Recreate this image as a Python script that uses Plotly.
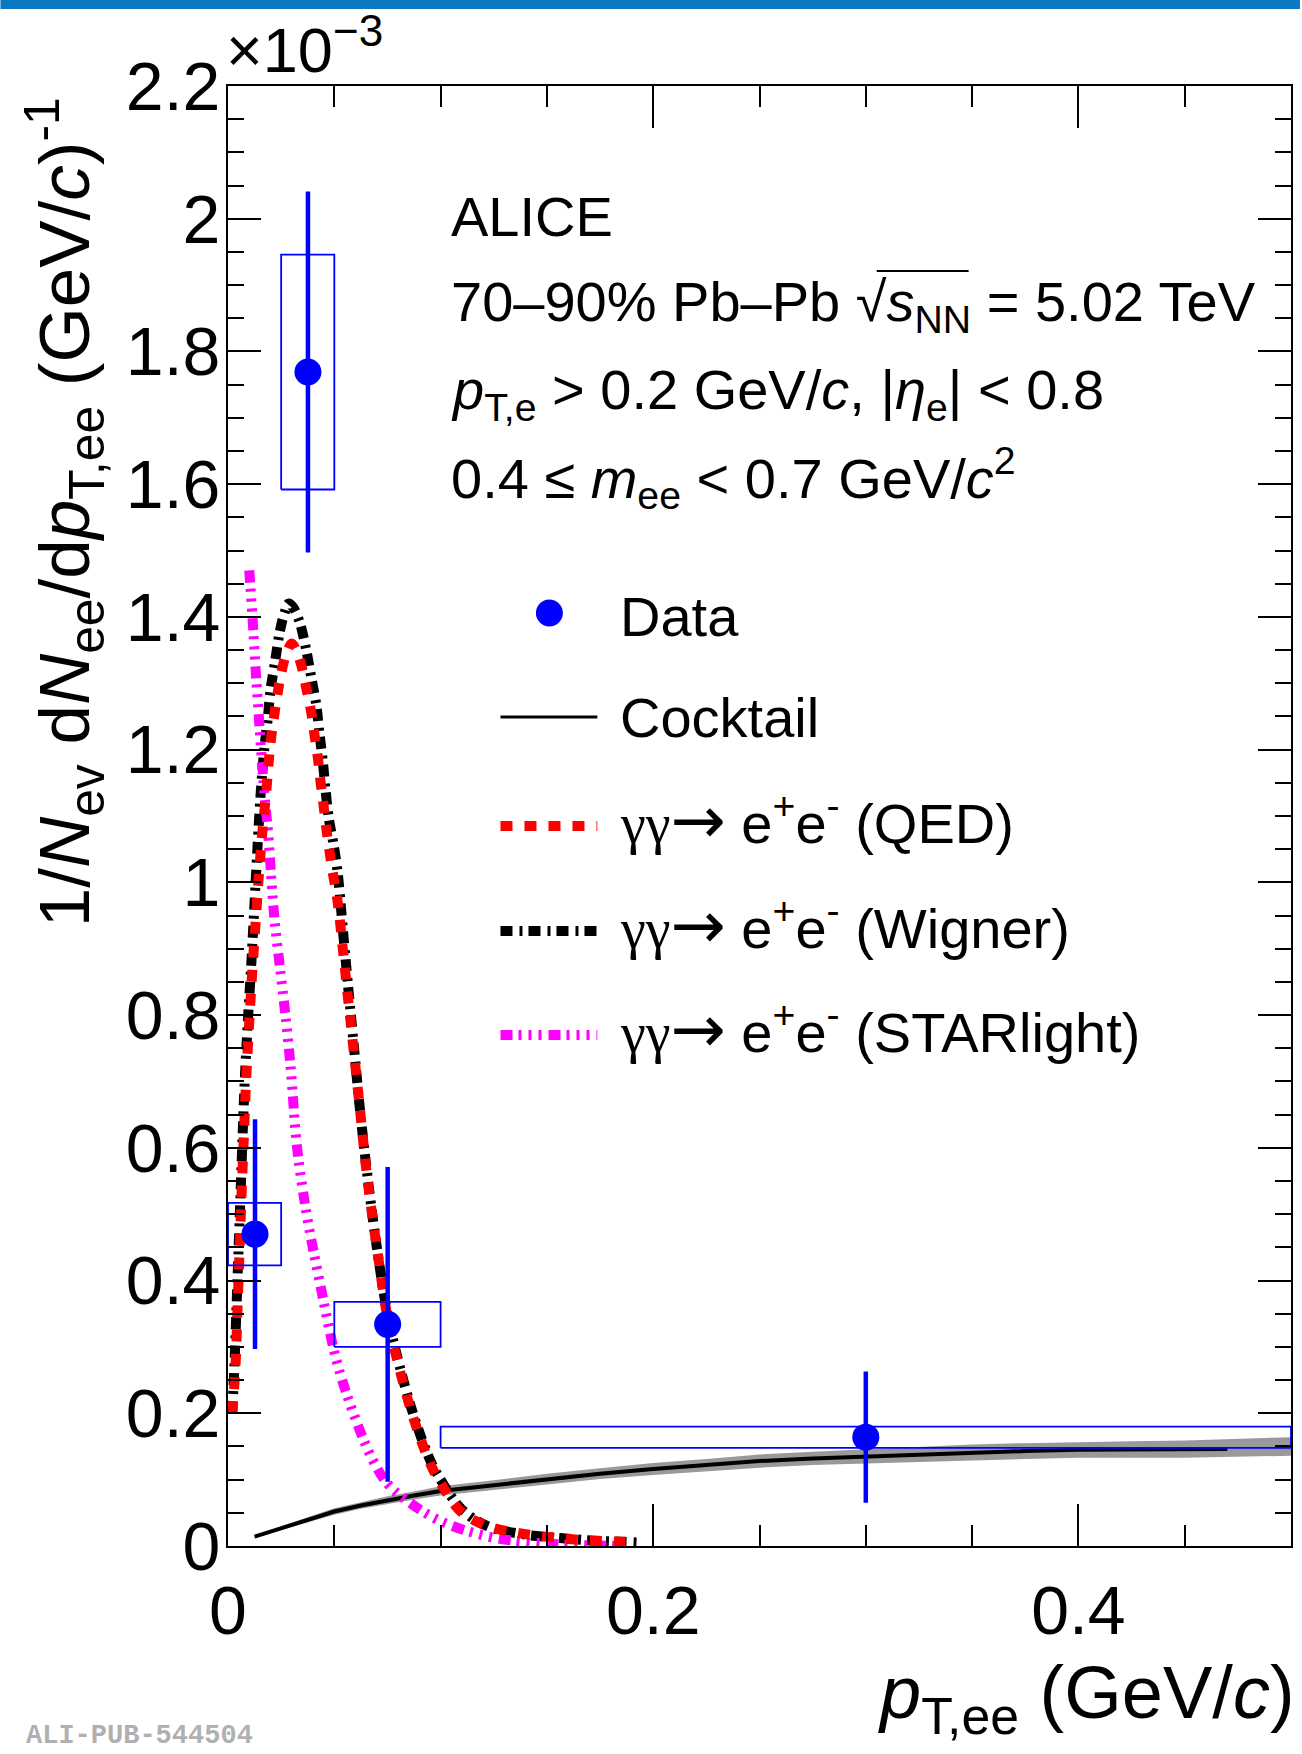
import plotly.graph_objects as go

# ---------------- data (y in units of 1e-3) ----------------
data_x = [0.0127, 0.0376, 0.0751, 0.300]
data_y = [0.470, 1.769, 0.334, 0.164]
data_stat = [0.173, 0.272, 0.237, 0.099]
box_xlo = [0.0, 0.025, 0.05, 0.10]
box_xhi = [0.025, 0.05, 0.10, 0.50]
data_sys = [0.047, 0.177, 0.034, 0.016]

cock_x = [0.0125, 0.025, 0.0375, 0.05, 0.0625, 0.075, 0.0875, 0.10, 0.125, 0.15, 0.175, 0.20,
          0.225, 0.25, 0.275, 0.30, 0.325, 0.35, 0.375, 0.40, 0.425, 0.45, 0.47]
cock_y = [0.014, 0.027, 0.040, 0.052, 0.061, 0.069, 0.076, 0.083, 0.092, 0.101, 0.109, 0.116,
          0.122, 0.128, 0.132, 0.135, 0.138, 0.141, 0.143, 0.145, 0.1455, 0.1457, 0.146]
band_x = [0.0125, 0.025, 0.0375, 0.05, 0.0625, 0.075, 0.0875, 0.10, 0.125, 0.15, 0.175, 0.20,
          0.225, 0.25, 0.275, 0.30, 0.325, 0.35, 0.375, 0.40, 0.425, 0.45, 0.475, 0.50]
band_lo = [0.012, 0.024, 0.036, 0.047, 0.056, 0.063, 0.070, 0.076, 0.085, 0.093, 0.101, 0.107,
           0.113, 0.118, 0.122, 0.124, 0.127, 0.129, 0.131, 0.133, 0.133, 0.133, 0.134, 0.136]
band_hi = [0.016, 0.030, 0.044, 0.057, 0.066, 0.075, 0.082, 0.090, 0.099, 0.109, 0.117, 0.125,
           0.131, 0.138, 0.142, 0.146, 0.149, 0.153, 0.155, 0.157, 0.158, 0.159, 0.161, 0.164]

qed_x = [0.0020, 0.0035, 0.0045, 0.0055, 0.0065, 0.0075, 0.0085, 0.0100, 0.0115, 0.0130, 0.0145,
         0.0160, 0.0180, 0.0200, 0.0231, 0.0250, 0.0275, 0.0300, 0.0320, 0.0344, 0.0368, 0.0391,
         0.0407, 0.0423, 0.0435, 0.0449, 0.0462, 0.0490, 0.0516, 0.0540, 0.0563, 0.0590, 0.0620,
         0.0655, 0.0700, 0.0750, 0.0800, 0.0870, 0.0950, 0.1000, 0.1095, 0.1220, 0.1377, 0.1565,
         0.1720, 0.1847, 0.1925]
qed_y = [0.20, 0.27, 0.36, 0.45, 0.54, 0.62, 0.70, 0.79, 0.87, 0.94, 1.01,
         1.07, 1.137, 1.21, 1.28, 1.315, 1.345, 1.36, 1.35, 1.328, 1.293, 1.257,
         1.222, 1.187, 1.152, 1.117, 1.082, 1.02, 0.97, 0.90, 0.83, 0.75, 0.66,
         0.555, 0.45, 0.345, 0.275, 0.195, 0.125, 0.095, 0.052, 0.030, 0.019, 0.0116,
         0.008, 0.0065, 0.006]

wig_x = [0.0020, 0.0030, 0.0040, 0.0050, 0.0060, 0.0070, 0.0080, 0.0095, 0.0110, 0.0125, 0.0140,
         0.0155, 0.0172, 0.0188, 0.0200, 0.0220, 0.0245, 0.0265, 0.0285, 0.0305, 0.0336, 0.0368,
         0.0391, 0.0415, 0.0430, 0.0446, 0.0459, 0.0474, 0.0495, 0.0516, 0.0540, 0.0563, 0.0587,
         0.0620, 0.0655, 0.0700, 0.0750, 0.0800, 0.0870, 0.0950, 0.1000, 0.1100, 0.1220, 0.1380,
         0.1560, 0.1720, 0.1850, 0.1950]
wig_y = [0.20, 0.27, 0.36, 0.45, 0.54, 0.63, 0.71, 0.80, 0.88, 0.97, 1.06,
         1.14, 1.205, 1.25, 1.29, 1.33, 1.38, 1.405, 1.42, 1.415, 1.393, 1.35,
         1.31, 1.268, 1.225, 1.182, 1.139, 1.097, 1.06, 1.014, 0.93, 0.85, 0.77,
         0.66, 0.56, 0.45, 0.35, 0.28, 0.20, 0.13, 0.10, 0.055, 0.030, 0.018,
         0.012, 0.008, 0.0065, 0.005]

star_x = [0.0100, 0.0115, 0.0130, 0.0145, 0.0160, 0.0175, 0.0190, 0.0205, 0.0220, 0.0245, 0.0270,
          0.0295, 0.0325, 0.0370, 0.0430, 0.0510, 0.0590, 0.0680, 0.0750, 0.0835, 0.0990, 0.1200,
          0.1400, 0.1600, 0.1840]
star_y = [1.47, 1.40, 1.32, 1.25, 1.18, 1.12, 1.07, 1.00, 0.94, 0.87, 0.80,
          0.72, 0.60, 0.50, 0.40, 0.28, 0.20, 0.13, 0.094, 0.070, 0.039, 0.016,
          0.006, 0.002, 0.0]

x_ticks = [0, 0.2, 0.4]
x_ticktext = ["0", "0.2", "0.4"]
y_ticks = [0, 0.2, 0.4, 0.6, 0.8, 1.0, 1.2, 1.4, 1.6, 1.8, 2.0, 2.2]
y_ticktext = ["0", "0.2", "0.4", "0.6", "0.8", "1", "1.2", "1.4", "1.6", "1.8", "2", "2.2"]

GG = ("<span style=\"font-family:'Liberation Serif'\">γγ</span>"
      "<span style=\"font-family:'DejaVu Sans';font-size:66px\">→</span>")
legend_labels = ["Data", "Cocktail",
                 GG + " e<sup>+</sup>e<sup>-</sup> (QED)",
                 GG + " e<sup>+</sup>e<sup>-</sup> (Wigner)",
                 GG + " e<sup>+</sup>e<sup>-</sup> (STARlight)"]

# ---------------- layout geometry ----------------
W, H = 1302, 1754
L, R, T, B = 228, 1293, 86, 1546
FONT = "Liberation Sans, Arial, Helvetica, sans-serif"


def px(x):
    return (x - L) / (R - L)


def py(y):
    return (B - y) / (B - T)


fig = go.Figure()

# cocktail band
fig.add_trace(go.Scatter(x=band_x + band_x[::-1], y=band_hi + band_lo[::-1], fill="toself",
                         fillcolor="#999999", line=dict(width=0), mode="lines",
                         hoverinfo="skip", showlegend=False))
fig.add_trace(go.Scatter(x=cock_x, y=cock_y, mode="lines", line=dict(color="black", width=4),
                         showlegend=False))

DASH_QED = "12px,12px"
DASH_WIG = "12px,7px,3px,6px"
DASH_STAR = "12px,6px,3px,7px,3px,7px,3px,7px"

fig.add_trace(go.Scatter(x=wig_x, y=wig_y, mode="lines",
                         line=dict(color="black", width=10, dash=DASH_WIG, shape="spline"),
                         showlegend=False))
fig.add_trace(go.Scatter(x=star_x, y=star_y, mode="lines",
                         line=dict(color="#ff00ff", width=10, dash=DASH_STAR, shape="spline"),
                         showlegend=False))
fig.add_trace(go.Scatter(x=qed_x, y=qed_y, mode="lines",
                         line=dict(color="#ff0000", width=10, dash=DASH_QED, shape="spline"),
                         showlegend=False))

# systematic boxes
for xl, xh, yc, s in zip(box_xlo, box_xhi, data_y, data_sys):
    fig.add_trace(go.Scatter(x=[xl, xh, xh, xl, xl], y=[yc - s, yc - s, yc + s, yc + s, yc - s],
                             mode="lines", line=dict(color="#0000ff", width=1.8),
                             hoverinfo="skip", showlegend=False))

# data points
fig.add_trace(go.Scatter(x=data_x, y=data_y, mode="markers",
                         marker=dict(color="#0000ff", size=27),
                         error_y=dict(type="data", array=data_stat, color="#0000ff",
                                      thickness=4.5, width=0),
                         showlegend=False))

axis_common = dict(showline=True, linecolor="black", linewidth=2, mirror="allticks",
                   ticks="inside", tickcolor="black", tickwidth=2, showgrid=False,
                   zeroline=False, tickfont=dict(family=FONT, size=68, color="black"))

fig.update_xaxes(range=[0, 0.5], tickvals=x_ticks, ticktext=x_ticktext, ticklen=42,
                 ticklabelstandoff=4,
                 minor=dict(dtick=0.05, tick0=0, ticklen=21, tickwidth=2, tickcolor="black",
                            ticks="inside", showgrid=False), **axis_common)
fig.update_yaxes(range=[0, 2.2], tickvals=y_ticks, ticktext=y_ticktext, ticklen=33,
                 ticklabelstandoff=-8,
                 minor=dict(dtick=0.05, tick0=0, ticklen=16, tickwidth=2, tickcolor="black",
                            ticks="inside", showgrid=False), **axis_common)

shapes = []
annotations = []

# top decorative band
shapes.append(dict(type="rect", xref="paper", yref="paper", x0=px(0), x1=px(W), y0=py(9), y1=py(0),
                   fillcolor="#0b79bf", line=dict(width=0), layer="above"))

# legend (manual)
leg_rows = [616, 717, 820, 925, 1029]
lx0, lx1, ltext = 501, 598, 619
shapes.append(dict(type="circle", xref="paper", yref="paper",
                   x0=px(550 - 13.5), x1=px(550 + 13.5), y0=py(613 + 13.5), y1=py(613 - 13.5),
                   fillcolor="#0000ff", line=dict(width=0)))
leg_line_rows = [717, 826, 931, 1035]
leg_styles = [("black", "solid", 3), ("#ff0000", DASH_QED, 10),
              ("black", DASH_WIG, 10), ("#ff00ff", DASH_STAR, 10)]
for (c, d, w), yr in zip(leg_styles, leg_line_rows):
    shapes.append(dict(type="line", xref="paper", yref="paper", x0=px(lx0), x1=px(lx1),
                       y0=py(yr), y1=py(yr), line=dict(color=c, dash=d, width=w)))
for lab, yr in zip(legend_labels, leg_rows):
    annotations.append(dict(text=lab, xref="paper", yref="paper", x=px(ltext), y=py(yr),
                            xanchor="left", yanchor="middle", showarrow=False,
                            font=dict(family=FONT, size=56, color="black")))

# header text
header = [
    ("ALICE", 216),
    ("70–90% Pb–Pb √<i>s</i><sub>NN</sub> = 5.02 TeV", 305),
    ("<i>p</i><sub>T,e</sub> &gt; 0.2 GeV/<i>c</i>, |<i>η</i><sub>e</sub>| &lt; 0.8", 393),
    ("0.4 ≤ <i>m</i><sub>ee</sub> &lt; 0.7 GeV/<i>c</i><sup>2</sup>", 478),
]
for txt, yy in header:
    annotations.append(dict(text=txt, xref="paper", yref="paper", x=px(449), y=py(yy),
                            xanchor="left", yanchor="middle", showarrow=False,
                            font=dict(family=FONT, size=56, color="black")))
# overline of the square root
shapes.append(dict(type="line", xref="paper", yref="paper", x0=px(878), x1=px(970),
                   y0=py(271), y1=py(271), line=dict(color="black", width=2)))

# exponent label
annotations.append(dict(text="×10<sup>−3</sup>", xref="paper", yref="paper", x=px(224), y=py(46),
                        xanchor="left", yanchor="middle", showarrow=False,
                        font=dict(family=FONT, size=63, color="black")))

# axis titles
annotations.append(dict(text="1/<i>N</i><sub>ev</sub> d<i>N</i><sub>ee</sub>/d<i>p</i><sub>T,ee</sub> (GeV/<i>c</i>)<sup>-1</sup>",
                        xref="paper", yref="paper", x=px(64), y=py(95), textangle=-90,
                        xanchor="center", yanchor="top", showarrow=False,
                        font=dict(family=FONT, size=71, color="black")))
annotations.append(dict(text="<i>p</i><sub>T,ee</sub> (GeV/<i>c</i>)",
                        xref="paper", yref="paper", x=px(1299), y=py(1698),
                        xanchor="right", yanchor="middle", showarrow=False,
                        font=dict(family=FONT, size=74, color="black")))

# watermark
annotations.append(dict(text="<b>ALI-PUB-544504</b>", xref="paper", yref="paper", x=px(24), y=py(1736),
                        xanchor="left", yanchor="middle", showarrow=False,
                        font=dict(family="Liberation Mono, Courier New, monospace", size=27, color="#b0b0b0")))

fig.update_layout(width=W, height=H, autosize=False,
                  margin=dict(l=L, r=W - R, t=T, b=H - B, pad=0),
                  plot_bgcolor="white", paper_bgcolor="white",
                  showlegend=False, shapes=shapes, annotations=annotations,
                  font=dict(family=FONT, color="black"))

fig.write_html("out.html", config={"displayModeBar": False, "staticPlot": True},
               post_script="document.body.style.margin='0px';document.body.style.overflow='hidden';")
